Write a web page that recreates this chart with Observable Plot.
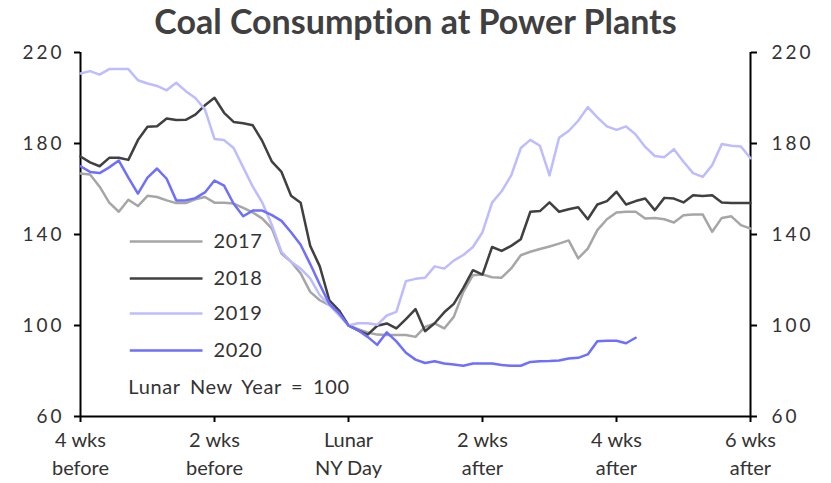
<!DOCTYPE html>
<html>
<head>
<meta charset="utf-8">
<script src="https://cdn.jsdelivr.net/npm/d3@7"></script>
<script src="https://cdn.jsdelivr.net/npm/@observablehq/plot@0.6"></script>
<style>
  html, body { margin: 0; padding: 0; background: #fff; }
  #title {
    font-family: Lato, "Open Sans", sans-serif; font-weight: bold; font-size: 34px;
    font-variant-ligatures: none;
    color: #404040; text-align: center; height: 34px; line-height: 42px; width: 831px;
  }
  #chart svg { overflow: visible; }
  #chart svg [aria-label="y-axis tick label"] text { letter-spacing: 3px; }
  #chart svg [aria-label="text"] text { letter-spacing: 0.6px; }
  #chart svg > g[aria-label="text"]:last-of-type text { word-spacing: 4px; }
</style>
</head>
<body>
<div id="title">Coal Consumption at Power Plants</div>
<div id="chart"></div>
<script>
// Days relative to Lunar New Year (-28 = 4 weeks before ... 42 = 6 weeks after)
const days = d3.range(-28, 43);
const years = ["2017", "2018", "2019", "2020"];

const v2017 = [
  166.8, 166.4, 161, 154, 150, 155.3, 152.5, 157, 156.5, 155, 153.8, 153.8, 155.5, 156.5, 154,
  154, 153.6, 151.7, 149.7, 147, 142.6, 131.6, 128, 122.9, 114.8, 111.1, 108.9, 106, 100,
  98.4, 96.9, 96, 95.8, 95.8, 95.8, 95, 99.4, 100.9, 98.7, 103.8, 114.8, 122.1, 122.4,
  121.2, 121, 125.1, 130.9, 132.4, 133.6, 134.7, 136, 137.4, 129.5, 133.8, 141.9, 146.7, 149.7,
  150, 150, 147, 147.3, 146.7, 145.3, 148.5, 148.8, 148.8, 141.2, 147.3, 148, 144.1, 142.6
];
const v2018 = [
  174.3, 171.7, 170, 173.7, 173.7, 172.8, 181.5, 187.4, 187.6, 191, 190.3, 190.4, 192.7, 196.8, 200.1,
  193.5, 189.5, 188.9, 188, 181, 172, 167.5, 157, 154, 135, 126, 111.1, 106.7, 100,
  97.9, 96, 99.9, 100.9, 98.7, 102.8, 107.2, 97.5, 101, 105.8, 109.5, 116.5, 124.3, 122.4,
  134.5, 132.8, 135, 137.9, 150, 150.3, 154.1, 150, 151.1, 152, 146.7, 153.2, 154.7, 158.8,
  153.2, 154.7, 155.8, 150.7, 156.1, 155.8, 154.1, 157.3, 156.9, 157.3, 154.1, 153.9, 153.9, 153.9
];
const v2019 = [
  210.8, 211.8, 210.3, 212.7, 212.7, 212.7, 207.8, 206.4, 205.3, 203.4, 206.7, 203, 200, 195, 182,
  181.5, 178, 169.5, 161, 154, 144.1, 132.4, 128, 125, 120.7, 113.3, 109, 104.5, 100,
  101, 101, 100.3, 104.4, 106, 119.5, 120.5, 121, 126, 125, 128.5, 131, 134.5, 141,
  154, 159, 166, 178, 181.6, 179, 166, 182.5, 185.5, 190, 196, 191.5, 187.5, 186,
  187.5, 184, 178.5, 174.5, 174, 177.5, 172, 167, 165.3, 170.5, 179.8, 179, 178.7, 173.5
];
const v2020 = [
  170, 167.5, 167, 169.5, 172.5, 165, 158, 165, 169, 164.5, 155, 155, 156, 158.5, 163.7,
  161.5, 153.5, 148, 150.5, 150.5, 148.5, 146, 141, 135.5, 127, 118, 109.5, 105.5, 100,
  97.9, 95, 91.5, 97, 93, 88, 85, 83.5, 84.3, 83.3, 82.9, 82.3, 83.3, 83.3,
  83.3, 82.6, 82.3, 82.3, 84, 84.3, 84.4, 84.6, 85.5, 85.8, 87.3, 93.1, 93.3, 93.3,
  92.2, 94.6
];
const series = [v2017, v2018, v2019, v2020];
const colors = ["#a6a6a6", "#404040", "#bcbcff", "#6e6eff"];

const xTicks = [-28, -14, 0, 14, 28, 42];
const xTickLabels = ["4 wks\nbefore", "2 wks\nbefore", "Lunar\nNY Day", "2 wks\nafter", "4 wks\nafter", "6 wks\nafter"];
const yTicks = [60, 100, 140, 180, 220];
const note = "Lunar New Year = 100";

// Legend layout (in chart units)
const legendLineX = [-22.8, -15.2];
const legendTextX = -14.1;
const legendY = [136.9, 120.7, 105.3, 89];
const noteX = -23;
const noteY = 72.7;

const rows = [];
years.forEach((yr, i) => series[i].forEach((v, j) => {
  if (v != null) rows.push({ year: yr, day: days[j], value: v });
}));
const legendRows = years.map((yr, i) => ({ year: yr, y: legendY[i] }));

const chart = Plot.plot({
  width: 831,
  height: 449,
  marginTop: 18,
  marginBottom: 67,
  marginLeft: 80,
  marginRight: 81,
  x: { domain: [-28, 42] },
  y: { domain: [60, 220] },
  color: { domain: years, range: colors },
  style: { fontFamily: "Lato, 'Open Sans', sans-serif", background: "white", color: "#333", overflow: "visible" },
  marks: [
    Plot.axisY({ anchor: "left", ticks: yTicks, tickSize: 6, tickPadding: 10, fontSize: 19, strokeWidth: 2, stroke: "black", color: "#333", label: null }),
    Plot.axisY({ anchor: "right", ticks: yTicks, tickSize: 6, tickPadding: 15, fontSize: 19, strokeWidth: 2, stroke: "black", color: "#333", label: null }),
    Plot.axisX({ ticks: xTicks, tickFormat: d => xTickLabels[xTicks.indexOf(d)], tickSize: 6, tickPadding: 5, fontSize: 20, lineHeight: 1.4, strokeWidth: 2, stroke: "black", color: "#333", label: null }),
    Plot.ruleX([-28, 42], { stroke: "black", strokeWidth: 2 }),
    Plot.ruleY([60], { stroke: "black", strokeWidth: 2 }),
    Plot.line(rows, { x: "day", y: "value", z: "year", stroke: "year", strokeWidth: 2.5, curve: "linear" }),
    Plot.ruleY(legendRows, { y: "y", x1: legendLineX[0], x2: legendLineX[1], stroke: "year", strokeWidth: 2.5 }),
    Plot.text(legendRows, { x: legendTextX, y: "y", text: "year", textAnchor: "start", fontSize: 20, fill: "#333" }),
    Plot.text([note], { x: noteX, y: noteY, text: d => d, textAnchor: "start", fontSize: 20, fill: "#333" })
  ]
});
document.getElementById("chart").appendChild(chart);
</script>
</body>
</html>
